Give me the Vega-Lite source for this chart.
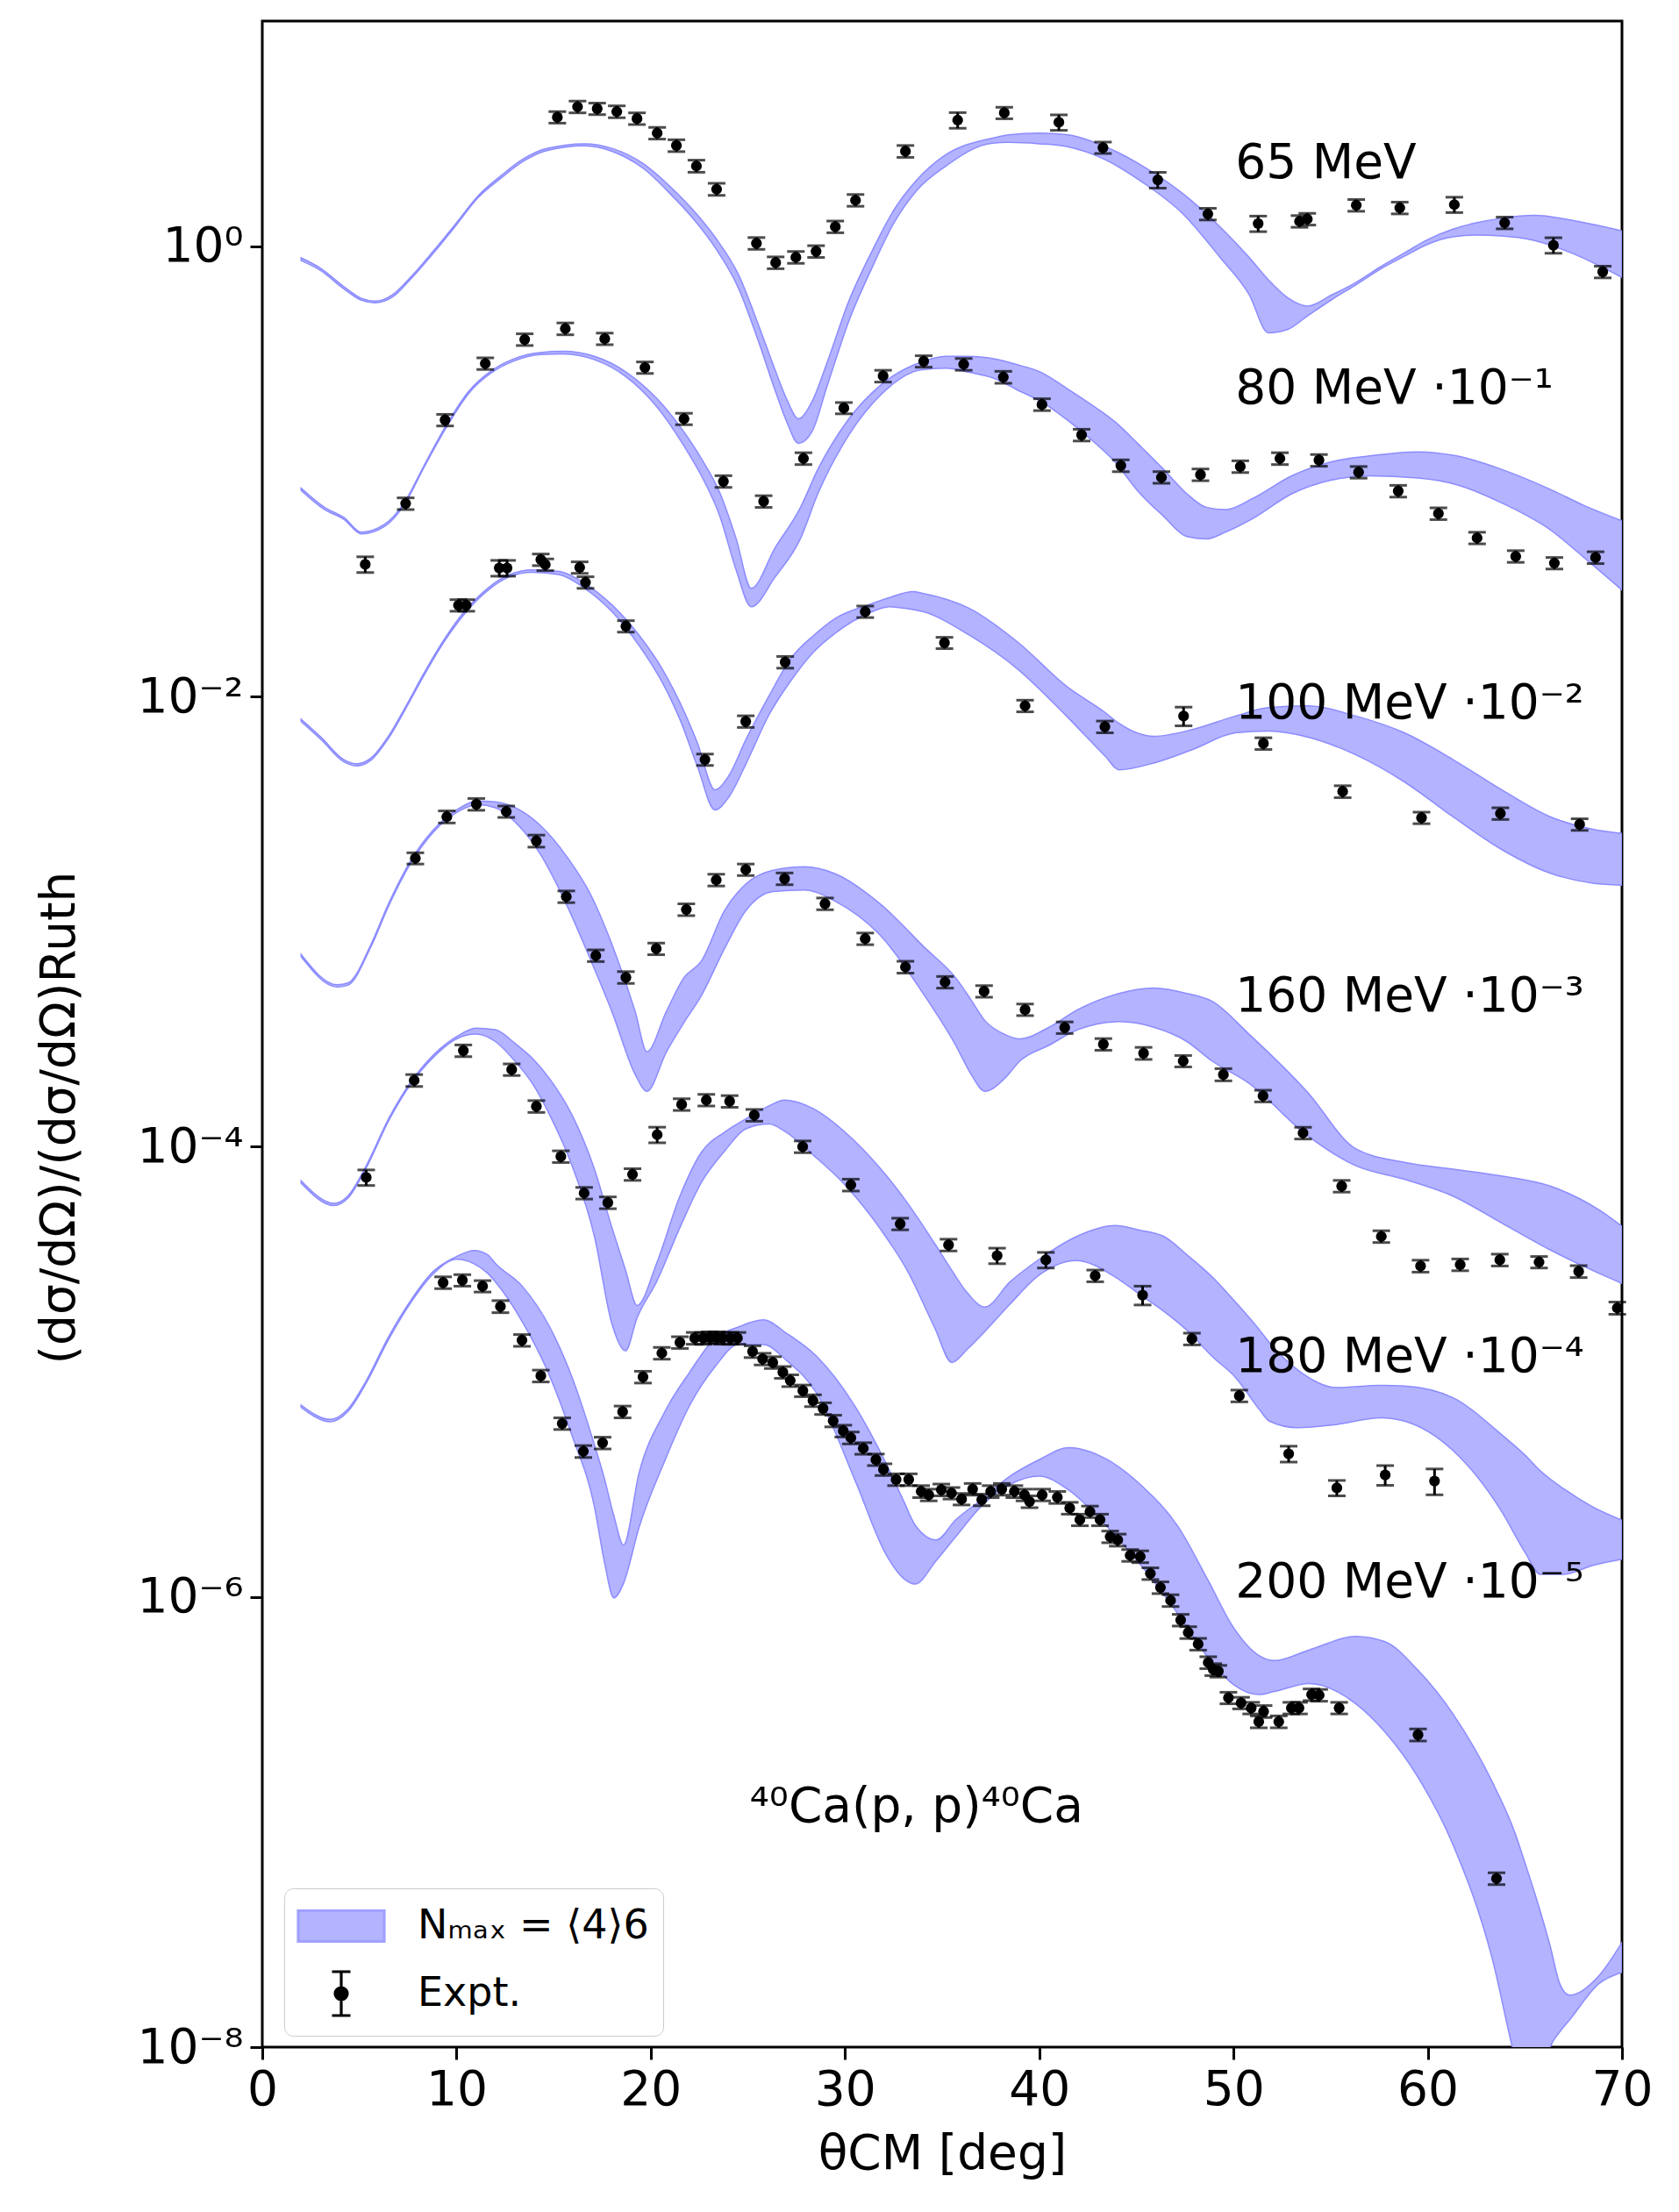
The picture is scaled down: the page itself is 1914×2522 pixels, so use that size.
{
  "$schema": "https://vega.github.io/schema/vega-lite/v6.json",
  "width": 1550,
  "height": 2310,
  "autosize": {"type": "none"},
  "padding": {"left": 299, "top": 24, "right": 65, "bottom": 188},
  "background": "white",
  "config": {
    "font": "DejaVu Sans",
    "view": {"stroke": "black", "strokeWidth": 3},
    "axis": {
      "domain": false, "grid": false,
      "tickColor": "black", "tickWidth": 3, "tickSize": 14,
      "labelColor": "black", "labelFont": "DejaVu Sans", "labelFontSize": 55,
      "labelFlush": false, "labelOverlap": false, "labelBound": false, "labelPadding": 8,
      "titleColor": "black", "titleFont": "DejaVu Sans", "titleFontSize": 55, "titleFontWeight": "normal"
    }
  },
  "datasets": {
    "bands": [
      {"E":"65","t":2.0,"hi":0.887,"lo":0.863},{"E":"65","t":3.0,"hi":0.798,"lo":0.780},{"E":"65","t":4.2,"hi":0.661,"lo":0.646},
      {"E":"65","t":5.1,"hi":0.586,"lo":0.575},{"E":"65","t":5.8,"hi":0.570,"lo":0.560},{"E":"65","t":6.7,"hi":0.608,"lo":0.594},
      {"E":"65","t":7.6,"hi":0.723,"lo":0.708},{"E":"65","t":8.8,"hi":0.951,"lo":0.929},{"E":"65","t":10.0,"hi":1.27,"lo":1.245},
      {"E":"65","t":11.1,"hi":1.67,"lo":1.64},{"E":"65","t":12.3,"hi":2.06,"lo":2.01},{"E":"65","t":13.4,"hi":2.43,"lo":2.37},
      {"E":"65","t":14.6,"hi":2.71,"lo":2.65},{"E":"65","t":16.6,"hi":2.85,"lo":2.79},{"E":"65","t":18.0,"hi":2.72,"lo":2.64},
      {"E":"65","t":19.6,"hi":2.33,"lo":2.22},{"E":"65","t":21.0,"hi":1.84,"lo":1.71},{"E":"65","t":22.2,"hi":1.44,"lo":1.32},
      {"E":"65","t":23.3,"hi":1.10,"lo":0.989},{"E":"65","t":24.5,"hi":0.752,"lo":0.655},{"E":"65","t":25.6,"hi":0.434,"lo":0.366},
      {"E":"65","t":26.4,"hi":0.282,"lo":0.229},{"E":"65","t":27.0,"hi":0.209,"lo":0.166},{"E":"65","t":27.6,"hi":0.171,"lo":0.133},
      {"E":"65","t":28.3,"hi":0.204,"lo":0.150},{"E":"65","t":29.1,"hi":0.308,"lo":0.242},{"E":"65","t":30.2,"hi":0.571,"lo":0.465},
      {"E":"65","t":31.4,"hi":0.955,"lo":0.805},{"E":"65","t":32.5,"hi":1.44,"lo":1.26},{"E":"65","t":33.7,"hi":1.97,"lo":1.77},
      {"E":"65","t":35.1,"hi":2.52,"lo":2.24},{"E":"65","t":37.6,"hi":3.02,"lo":2.87},{"E":"65","t":38.4,"hi":3.12,"lo":2.89},
      {"E":"65","t":40.0,"hi":3.18,"lo":2.85},{"E":"65","t":41.4,"hi":3.13,"lo":2.77},{"E":"65","t":43.4,"hi":2.77,"lo":2.42},
      {"E":"65","t":45.4,"hi":2.25,"lo":1.90},{"E":"65","t":47.4,"hi":1.71,"lo":1.39},{"E":"65","t":49.3,"hi":1.22,"lo":0.893},
      {"E":"65","t":50.8,"hi":0.893,"lo":0.611},{"E":"65","t":51.8,"hi":0.708,"lo":0.412},{"E":"65","t":52.8,"hi":0.589,"lo":0.427},
      {"E":"65","t":53.8,"hi":0.542,"lo":0.489},{"E":"65","t":55.1,"hi":0.610,"lo":0.582},{"E":"65","t":56.3,"hi":0.690,"lo":0.673},
      {"E":"65","t":57.6,"hi":0.813,"lo":0.794},{"E":"65","t":58.8,"hi":0.933,"lo":0.902},{"E":"65","t":60.0,"hi":1.07,"lo":1.02},
      {"E":"65","t":61.3,"hi":1.19,"lo":1.10},{"E":"65","t":62.5,"hi":1.27,"lo":1.12},{"E":"65","t":63.8,"hi":1.33,"lo":1.11},
      {"E":"65","t":65.5,"hi":1.37,"lo":1.06},{"E":"65","t":67.5,"hi":1.30,"lo":0.925},{"E":"65","t":70.0,"hi":1.17,"lo":0.726},

      {"E":"80","t":2.0,"hi":0.0841,"lo":0.0822},{"E":"80","t":3.2,"hi":0.0692,"lo":0.0676},{"E":"80","t":4.2,"hi":0.0624,"lo":0.0612},
      {"E":"80","t":5.1,"hi":0.0537,"lo":0.0527},{"E":"80","t":6.3,"hi":0.0582,"lo":0.0569},{"E":"80","t":7.3,"hi":0.0724,"lo":0.0708},
      {"E":"80","t":8.35,"hi":0.107,"lo":0.105},{"E":"80","t":9.5,"hi":0.162,"lo":0.158},{"E":"80","t":10.65,"hi":0.228,"lo":0.223},
      {"E":"80","t":11.8,"hi":0.280,"lo":0.274},{"E":"80","t":12.95,"hi":0.316,"lo":0.309},{"E":"80","t":14.3,"hi":0.337,"lo":0.330},
      {"E":"80","t":15.5,"hi":0.341,"lo":0.332},{"E":"80","t":17.1,"hi":0.324,"lo":0.313},{"E":"80","t":18.7,"hi":0.277,"lo":0.264},
      {"E":"80","t":20.3,"hi":0.211,"lo":0.194},{"E":"80","t":21.7,"hi":0.150,"lo":0.130},{"E":"80","t":22.6,"hi":0.114,"lo":0.0957},
      {"E":"80","t":23.55,"hi":0.0805,"lo":0.0634},{"E":"80","t":24.4,"hi":0.0501,"lo":0.0363},{"E":"80","t":25.17,"hi":0.0302,"lo":0.0250},
      {"E":"80","t":26.4,"hi":0.0457,"lo":0.0339},{"E":"80","t":27.7,"hi":0.0689,"lo":0.0501},{"E":"80","t":28.6,"hi":0.102,"lo":0.0794},
      {"E":"80","t":30.2,"hi":0.171,"lo":0.145},{"E":"80","t":31.85,"hi":0.242,"lo":0.219},{"E":"80","t":33.9,"hi":0.305,"lo":0.282},
      {"E":"80","t":35.2,"hi":0.324,"lo":0.287},{"E":"80","t":36.4,"hi":0.324,"lo":0.275},{"E":"80","t":37.65,"hi":0.316,"lo":0.259},
      {"E":"80","t":38.9,"hi":0.297,"lo":0.229},{"E":"80","t":40.1,"hi":0.275,"lo":0.204},{"E":"80","t":41.4,"hi":0.234,"lo":0.170},
      {"E":"80","t":42.6,"hi":0.200,"lo":0.140},{"E":"80","t":43.9,"hi":0.166,"lo":0.110},{"E":"80","t":45.1,"hi":0.132,"lo":0.0813},
      {"E":"80","t":46.4,"hi":0.102,"lo":0.0631},{"E":"80","t":47.6,"hi":0.0794,"lo":0.0513},{"E":"80","t":48.6,"hi":0.0692,"lo":0.0501},
      {"E":"80","t":49.6,"hi":0.0676,"lo":0.0537},{"E":"80","t":51.0,"hi":0.0759,"lo":0.0617},{"E":"80","t":53.0,"hi":0.0955,"lo":0.0794},
      {"E":"80","t":55.0,"hi":0.110,"lo":0.0912},{"E":"80","t":57.0,"hi":0.117,"lo":0.0955},{"E":"80","t":59.5,"hi":0.122,"lo":0.0933},
      {"E":"80","t":61.5,"hi":0.117,"lo":0.0871},{"E":"80","t":63.8,"hi":0.102,"lo":0.0724},{"E":"80","t":66.3,"hi":0.0832,"lo":0.0550},
      {"E":"80","t":68.0,"hi":0.0708,"lo":0.0417},{"E":"80","t":70.0,"hi":0.0603,"lo":0.0297},

      {"E":"100","t":2.0,"hi":7.91e-3,"lo":7.73e-3},{"E":"100","t":3.05,"hi":6.55e-3,"lo":6.40e-3},{"E":"100","t":4.2,"hi":5.24e-3,"lo":5.12e-3},
      {"E":"100","t":4.9,"hi":5.02e-3,"lo":4.91e-3},{"E":"100","t":5.6,"hi":5.33e-3,"lo":5.21e-3},{"E":"100","t":6.5,"hi":6.67e-3,"lo":6.52e-3},
      {"E":"100","t":7.4,"hi":9.08e-3,"lo":8.87e-3},{"E":"100","t":8.35,"hi":0.0128,"lo":0.0125},{"E":"100","t":9.27,"hi":0.0174,"lo":0.0170},
      {"E":"100","t":10.4,"hi":0.0238,"lo":0.0232},{"E":"100","t":11.6,"hi":0.0302,"lo":0.0295},{"E":"100","t":12.7,"hi":0.0347,"lo":0.0339},
      {"E":"100","t":13.9,"hi":0.0365,"lo":0.0356},{"E":"100","t":15.3,"hi":0.0359,"lo":0.0347},{"E":"100","t":16.6,"hi":0.0318,"lo":0.0302},
      {"E":"100","t":18.0,"hi":0.0255,"lo":0.0238},{"E":"100","t":19.4,"hi":0.0187,"lo":0.0168},{"E":"100","t":20.6,"hi":0.0132,"lo":0.0115},
      {"E":"100","t":21.5,"hi":9.40e-3,"lo":7.91e-3},{"E":"100","t":22.4,"hi":6.22e-3,"lo":4.89e-3},{"E":"100","t":23.3,"hi":3.85e-3,"lo":3.13e-3},
      {"E":"100","t":24.0,"hi":4.42e-3,"lo":3.55e-3},{"E":"100","t":24.9,"hi":6.44e-3,"lo":5.01e-3},{"E":"100","t":26.1,"hi":0.0101,"lo":8.32e-3},
      {"E":"100","t":27.2,"hi":0.0147,"lo":0.0117},{"E":"100","t":28.4,"hi":0.0187,"lo":0.0158},{"E":"100","t":29.5,"hi":0.0222,"lo":0.0191},
      {"E":"100","t":31.2,"hi":0.0255,"lo":0.0234},{"E":"100","t":32.3,"hi":0.0275,"lo":0.0250},{"E":"100","t":33.5,"hi":0.0292,"lo":0.0243},
      {"E":"100","t":34.0,"hi":0.0287,"lo":0.0238},{"E":"100","t":36.4,"hi":0.0246,"lo":0.0187},{"E":"100","t":38.9,"hi":0.0174,"lo":0.0132},
      {"E":"100","t":41.4,"hi":0.0111,"lo":8.18e-3},{"E":"100","t":43.4,"hi":8.47e-3,"lo":5.42e-3},{"E":"100","t":44.1,"hi":7.59e-3,"lo":4.72e-3},
      {"E":"100","t":45.9,"hi":6.65e-3,"lo":5.06e-3},{"E":"100","t":47.9,"hi":7.13e-3,"lo":5.81e-3},{"E":"100","t":50.1,"hi":8.18e-3,"lo":6.89e-3},
      {"E":"100","t":51.8,"hi":8.91e-3,"lo":7.02e-3},{"E":"100","t":53.8,"hi":9.08e-3,"lo":6.61e-3},{"E":"100","t":56.3,"hi":8.18e-3,"lo":5.50e-3},
      {"E":"100","t":58.8,"hi":6.89e-3,"lo":4.17e-3},{"E":"100","t":61.3,"hi":5.24e-3,"lo":2.92e-3},{"E":"100","t":63.8,"hi":3.85e-3,"lo":2.09e-3},
      {"E":"100","t":66.3,"hi":2.92e-3,"lo":1.64e-3},{"E":"100","t":68.5,"hi":2.57e-3,"lo":1.48e-3},{"E":"100","t":70.0,"hi":2.46e-3,"lo":1.45e-3},

      {"E":"160","t":2.0,"hi":7.14e-4,"lo":6.98e-4},{"E":"160","t":3.85,"hi":5.24e-4,"lo":5.12e-4},{"E":"160","t":4.4,"hi":5.33e-4,"lo":5.21e-4},
      {"E":"160","t":5.6,"hi":7.93e-4,"lo":7.74e-4},{"E":"160","t":6.5,"hi":1.20e-3,"lo":1.17e-3},{"E":"160","t":7.65,"hi":1.87e-3,"lo":1.82e-3},
      {"E":"160","t":8.8,"hi":2.55e-3,"lo":2.49e-3},{"E":"160","t":10.0,"hi":3.13e-3,"lo":3.05e-3},{"E":"160","t":11.1,"hi":3.43e-3,"lo":3.30e-3},
      {"E":"160","t":12.0,"hi":3.40e-3,"lo":3.20e-3},{"E":"160","t":13.4,"hi":3.08e-3,"lo":2.55e-3},{"E":"160","t":14.3,"hi":2.68e-3,"lo":2.00e-3},
      {"E":"160","t":15.7,"hi":1.93e-3,"lo":1.17e-3},{"E":"160","t":16.9,"hi":1.32e-3,"lo":6.76e-4},{"E":"160","t":18.0,"hi":7.93e-4,"lo":3.98e-4},
      {"E":"160","t":19.2,"hi":3.98e-4,"lo":2.09e-4},{"E":"160","t":19.8,"hi":2.64e-4,"lo":1.76e-4},{"E":"160","t":20.8,"hi":3.98e-4,"lo":2.63e-4},
      {"E":"160","t":21.7,"hi":5.62e-4,"lo":3.55e-4},{"E":"160","t":22.6,"hi":6.67e-4,"lo":4.68e-4},{"E":"160","t":23.8,"hi":1.12e-3,"lo":7.59e-4},
      {"E":"160","t":24.9,"hi":1.47e-3,"lo":1.12e-3},{"E":"160","t":26.3,"hi":1.69e-3,"lo":1.36e-3},{"E":"160","t":27.9,"hi":1.75e-3,"lo":1.38e-3},
      {"E":"160","t":29.5,"hi":1.63e-3,"lo":1.23e-3},{"E":"160","t":31.8,"hi":1.20e-3,"lo":8.71e-4},{"E":"160","t":34.1,"hi":7.66e-4,"lo":4.68e-4},
      {"E":"160","t":35.7,"hi":5.62e-4,"lo":2.82e-4},{"E":"160","t":36.5,"hi":4.47e-4,"lo":2.09e-4},{"E":"160","t":37.2,"hi":3.63e-4,"lo":1.76e-4},
      {"E":"160","t":38.2,"hi":3.16e-4,"lo":2.00e-4},{"E":"160","t":39.0,"hi":3.01e-4,"lo":2.40e-4},{"E":"160","t":40.5,"hi":3.39e-4,"lo":2.82e-4},
      {"E":"160","t":42.0,"hi":4.07e-4,"lo":3.31e-4},{"E":"160","t":44.1,"hi":4.79e-4,"lo":3.59e-4},{"E":"160","t":45.9,"hi":5.06e-4,"lo":3.39e-4},
      {"E":"160","t":47.6,"hi":4.79e-4,"lo":2.93e-4},{"E":"160","t":48.9,"hi":4.42e-4,"lo":2.40e-4},{"E":"160","t":50.8,"hi":3.16e-4,"lo":1.91e-4},
      {"E":"160","t":53.8,"hi":1.75e-4,"lo":1.12e-4},{"E":"160","t":56.3,"hi":9.77e-5,"lo":8.22e-5},{"E":"160","t":58.8,"hi":8.51e-5,"lo":7.16e-5},
      {"E":"160","t":61.3,"hi":7.94e-5,"lo":6.03e-5},{"E":"160","t":63.8,"hi":7.41e-5,"lo":4.58e-5},{"E":"160","t":66.3,"hi":6.68e-5,"lo":3.48e-5},
      {"E":"160","t":68.8,"hi":5.25e-5,"lo":2.74e-5},{"E":"160","t":70.0,"hi":4.43e-5,"lo":2.47e-5},

      {"E":"180","t":2.0,"hi":7.05e-5,"lo":6.89e-5},{"E":"180","t":3.7,"hi":5.60e-5,"lo":5.47e-5},{"E":"180","t":4.4,"hi":6.03e-5,"lo":5.89e-5},
      {"E":"180","t":5.35,"hi":8.22e-5,"lo":8.04e-5},{"E":"180","t":6.5,"hi":1.33e-4,"lo":1.30e-4},{"E":"180","t":7.65,"hi":1.94e-4,"lo":1.90e-4},
      {"E":"180","t":8.8,"hi":2.55e-4,"lo":2.49e-4},{"E":"180","t":10.0,"hi":3.08e-4,"lo":3.01e-4},{"E":"180","t":11.0,"hi":3.36e-4,"lo":3.16e-4},
      {"E":"180","t":12.0,"hi":3.31e-4,"lo":2.93e-4},{"E":"180","t":13.0,"hi":2.88e-4,"lo":2.40e-4},{"E":"180","t":13.9,"hi":2.47e-4,"lo":1.91e-4},
      {"E":"180","t":14.8,"hi":2.00e-4,"lo":1.38e-4},{"E":"180","t":15.95,"hi":1.38e-4,"lo":8.22e-5},{"E":"180","t":17.1,"hi":7.94e-5,"lo":3.99e-5},
      {"E":"180","t":18.0,"hi":4.37e-5,"lo":1.63e-5},{"E":"180","t":18.7,"hi":2.83e-5,"lo":1.24e-5},{"E":"180","t":19.3,"hi":1.97e-5,"lo":1.74e-5},
      {"E":"180","t":20.3,"hi":3.03e-5,"lo":2.51e-5},{"E":"180","t":21.5,"hi":6.03e-5,"lo":4.37e-5},{"E":"180","t":22.6,"hi":9.42e-5,"lo":6.92e-5},
      {"E":"180","t":23.8,"hi":1.16e-4,"lo":9.55e-5},{"E":"180","t":24.9,"hi":1.33e-4,"lo":1.20e-4},{"E":"180","t":26.1,"hi":1.52e-4,"lo":1.26e-4},
      {"E":"180","t":26.9,"hi":1.61e-4,"lo":1.17e-4},{"E":"180","t":28.4,"hi":1.47e-4,"lo":9.12e-5},{"E":"180","t":30.0,"hi":1.16e-4,"lo":6.76e-5},
      {"E":"180","t":31.85,"hi":7.94e-5,"lo":4.27e-5},{"E":"180","t":33.2,"hi":5.64e-5,"lo":2.82e-5},{"E":"180","t":34.6,"hi":3.73e-5,"lo":1.58e-5},
      {"E":"180","t":35.5,"hi":2.82e-5,"lo":1.10e-5},{"E":"180","t":36.3,"hi":2.24e-5,"lo":1.26e-5},{"E":"180","t":37.2,"hi":1.94e-5,"lo":1.51e-5},
      {"E":"180","t":38.5,"hi":2.51e-5,"lo":2.00e-5},{"E":"180","t":40.0,"hi":3.16e-5,"lo":2.69e-5},{"E":"180","t":41.9,"hi":3.98e-5,"lo":3.12e-5},
      {"E":"180","t":43.9,"hi":4.46e-5,"lo":2.64e-5},{"E":"180","t":45.1,"hi":4.27e-5,"lo":2.23e-5},{"E":"180","t":46.4,"hi":4.00e-5,"lo":1.86e-5},
      {"E":"180","t":47.6,"hi":3.31e-5,"lo":1.53e-5},{"E":"180","t":48.9,"hi":2.64e-5,"lo":1.17e-5},{"E":"180","t":50.1,"hi":2.04e-5,"lo":9.44e-6},
      {"E":"180","t":51.35,"hi":1.53e-5,"lo":6.76e-6},{"E":"180","t":51.84,"hi":1.35e-5,"lo":6.04e-6},{"E":"180","t":53.3,"hi":1.02e-5,"lo":5.64e-6},
      {"E":"180","t":55.3,"hi":8.51e-6,"lo":5.83e-6},{"E":"180","t":57.6,"hi":8.71e-6,"lo":6.25e-6},{"E":"180","t":58.8,"hi":8.65e-6,"lo":6.04e-6},
      {"E":"180","t":61.3,"hi":7.67e-6,"lo":4.47e-6},{"E":"180","t":63.8,"hi":5.26e-6,"lo":2.40e-6},{"E":"180","t":65.0,"hi":4.27e-6,"lo":1.58e-6},
      {"E":"180","t":65.8,"hi":3.63e-6,"lo":1.26e-6},{"E":"180","t":67.0,"hi":3.02e-6,"lo":1.26e-6},{"E":"180","t":68.5,"hi":2.51e-6,"lo":1.38e-6},
      {"E":"180","t":70.0,"hi":2.19e-6,"lo":1.47e-6},

      {"E":"200","t":2.0,"hi":7.11e-6,"lo":6.95e-6},{"E":"200","t":3.5,"hi":6.14e-6,"lo":6.00e-6},{"E":"200","t":4.4,"hi":6.81e-6,"lo":6.65e-6},
      {"E":"200","t":5.35,"hi":9.12e-6,"lo":8.91e-6},{"E":"200","t":6.5,"hi":1.43e-5,"lo":1.39e-5},{"E":"200","t":7.65,"hi":2.08e-5,"lo":2.03e-5},
      {"E":"200","t":8.8,"hi":2.79e-5,"lo":2.72e-5},{"E":"200","t":10.0,"hi":3.25e-5,"lo":3.16e-5},{"E":"200","t":10.9,"hi":3.46e-5,"lo":3.02e-5},
      {"E":"200","t":11.6,"hi":3.31e-5,"lo":2.74e-5},{"E":"200","t":12.0,"hi":3.03e-5,"lo":2.51e-5},{"E":"200","t":13.4,"hi":2.39e-5,"lo":1.66e-5},
      {"E":"200","t":14.8,"hi":1.58e-5,"lo":9.55e-6},{"E":"200","t":15.95,"hi":9.44e-6,"lo":5.19e-6},{"E":"200","t":17.1,"hi":4.74e-6,"lo":2.51e-6},
      {"E":"200","t":17.6,"hi":3.39e-6,"lo":1.45e-6},{"E":"200","t":18.1,"hi":2.29e-6,"lo":9.89e-7},{"E":"200","t":18.6,"hi":1.70e-6,"lo":1.15e-6},
      {"E":"200","t":19.4,"hi":3.56e-6,"lo":2.04e-6},{"E":"200","t":20.7,"hi":6.59e-6,"lo":3.98e-6},{"E":"200","t":22.0,"hi":9.95e-6,"lo":7.08e-6},
      {"E":"200","t":23.3,"hi":1.41e-5,"lo":1.05e-5},{"E":"200","t":24.5,"hi":1.58e-5,"lo":1.32e-5},{"E":"200","t":25.8,"hi":1.70e-5,"lo":1.32e-5},
      {"E":"200","t":27.0,"hi":1.48e-5,"lo":1.12e-5},{"E":"200","t":28.5,"hi":1.18e-5,"lo":8.13e-6},{"E":"200","t":30.5,"hi":7.06e-6,"lo":3.32e-6},
      {"E":"200","t":32.1,"hi":3.94e-6,"lo":1.55e-6},{"E":"200","t":33.0,"hi":2.69e-6,"lo":1.21e-6},{"E":"200","t":33.6,"hi":2.09e-6,"lo":1.14e-6},
      {"E":"200","t":34.7,"hi":1.79e-6,"lo":1.45e-6},{"E":"200","t":35.7,"hi":2.20e-6,"lo":1.85e-6},{"E":"200","t":37.0,"hi":2.69e-6,"lo":2.52e-6},
      {"E":"200","t":38.5,"hi":3.44e-6,"lo":3.16e-6},{"E":"200","t":40.0,"hi":4.07e-6,"lo":3.44e-6},{"E":"200","t":41.5,"hi":4.60e-6,"lo":2.99e-6},
      {"E":"200","t":43.5,"hi":4.07e-6,"lo":2.05e-6},{"E":"200","t":45.3,"hi":3.10e-6,"lo":1.36e-6},{"E":"200","t":47.15,"hi":2.05e-6,"lo":8.39e-7},
      {"E":"200","t":48.7,"hi":1.18e-6,"lo":5.37e-7},{"E":"200","t":50.0,"hi":7.31e-7,"lo":4.08e-7},{"E":"200","t":51.3,"hi":5.50e-7,"lo":3.68e-7},
      {"E":"200","t":52.1,"hi":5.21e-7,"lo":3.80e-7},{"E":"200","t":53.9,"hi":5.81e-7,"lo":4.12e-7},{"E":"200","t":56.3,"hi":6.67e-7,"lo":3.35e-7},
      {"E":"200","t":57.8,"hi":6.32e-7,"lo":2.51e-7},{"E":"200","t":59.5,"hi":4.72e-7,"lo":1.58e-7},{"E":"200","t":61.3,"hi":3.02e-7,"lo":7.93e-8},
      {"E":"200","t":63.3,"hi":1.52e-7,"lo":2.51e-8},{"E":"200","t":64.5,"hi":8.91e-8,"lo":8.91e-9},{"E":"200","t":65.0,"hi":6.61e-8,"lo":6.31e-9},
      {"E":"200","t":65.7,"hi":4.27e-8,"lo":6.31e-9},{"E":"200","t":66.3,"hi":2.82e-8,"lo":1.00e-8},{"E":"200","t":66.8,"hi":1.91e-8,"lo":1.17e-8},
      {"E":"200","t":67.3,"hi":1.70e-8,"lo":1.32e-8},{"E":"200","t":68.8,"hi":2.07e-8,"lo":1.91e-8},{"E":"200","t":70.0,"hi":2.92e-8,"lo":2.15e-8}
    ],
    "expt": [
      {"E":"65","t":15.19,"v":3.74,"e":0.22},{"E":"65","t":16.23,"v":4.16,"e":0.25},{"E":"65","t":17.24,"v":4.08,"e":0.24},
      {"E":"65","t":18.25,"v":3.96,"e":0.24},{"E":"65","t":19.29,"v":3.69,"e":0.22},{"E":"65","t":20.33,"v":3.18,"e":0.19},
      {"E":"65","t":21.32,"v":2.80,"e":0.17},{"E":"65","t":22.35,"v":2.27,"e":0.14},{"E":"65","t":23.39,"v":1.79,"e":0.11},
      {"E":"65","t":25.44,"v":1.03,"e":0.062},{"E":"65","t":26.43,"v":0.845,"e":0.051},{"E":"65","t":27.47,"v":0.893,"e":0.054},
      {"E":"65","t":28.51,"v":0.948,"e":0.057},{"E":"65","t":29.5,"v":1.22,"e":0.073},{"E":"65","t":30.54,"v":1.60,"e":0.096},
      {"E":"65","t":33.11,"v":2.64,"e":0.16},{"E":"65","t":35.8,"v":3.63,"e":0.29},{"E":"65","t":38.2,"v":3.91,"e":0.23},
      {"E":"65","t":41.01,"v":3.55,"e":0.28},{"E":"65","t":43.28,"v":2.74,"e":0.16},{"E":"65","t":46.1,"v":1.97,"e":0.16},
      {"E":"65","t":48.68,"v":1.39,"e":0.083},{"E":"65","t":51.27,"v":1.26,"e":0.10},{"E":"65","t":53.4,"v":1.29,"e":0.077},
      {"E":"65","t":53.8,"v":1.32,"e":0.079},{"E":"65","t":56.32,"v":1.52,"e":0.091},{"E":"65","t":58.56,"v":1.48,"e":0.089},
      {"E":"65","t":61.37,"v":1.53,"e":0.12},{"E":"65","t":63.96,"v":1.27,"e":0.076},{"E":"65","t":66.47,"v":1.01,"e":0.08},
      {"E":"65","t":69.01,"v":0.769,"e":0.046},

      {"E":"80","t":5.3,"v":0.0386,"e":0.0031},{"E":"80","t":7.38,"v":0.0719,"e":0.0043},{"E":"80","t":9.41,"v":0.169,"e":0.010},
      {"E":"80","t":11.48,"v":0.301,"e":0.018},{"E":"80","t":13.51,"v":0.385,"e":0.023},{"E":"80","t":15.6,"v":0.430,"e":0.026},
      {"E":"80","t":17.63,"v":0.388,"e":0.023},{"E":"80","t":19.7,"v":0.289,"e":0.017},{"E":"80","t":21.71,"v":0.171,"e":0.010},
      {"E":"80","t":23.74,"v":0.0902,"e":0.0054},{"E":"80","t":25.81,"v":0.0735,"e":0.0044},{"E":"80","t":27.86,"v":0.114,"e":0.0069},
      {"E":"80","t":29.94,"v":0.191,"e":0.011},{"E":"80","t":31.96,"v":0.265,"e":0.016},{"E":"80","t":34.05,"v":0.308,"e":0.018},
      {"E":"80","t":36.11,"v":0.299,"e":0.018},{"E":"80","t":38.15,"v":0.262,"e":0.016},{"E":"80","t":40.14,"v":0.198,"e":0.012},
      {"E":"80","t":42.18,"v":0.145,"e":0.0087},{"E":"80","t":44.2,"v":0.106,"e":0.0064},{"E":"80","t":46.29,"v":0.0940,"e":0.0056},
      {"E":"80","t":48.3,"v":0.0966,"e":0.0058},{"E":"80","t":50.35,"v":0.105,"e":0.0063},{"E":"80","t":52.39,"v":0.114,"e":0.0069},
      {"E":"80","t":54.4,"v":0.112,"e":0.0067},{"E":"80","t":56.44,"v":0.0991,"e":0.0059},{"E":"80","t":58.48,"v":0.0817,"e":0.0049},
      {"E":"80","t":60.55,"v":0.0649,"e":0.0039},{"E":"80","t":62.54,"v":0.0506,"e":0.0030},{"E":"80","t":64.53,"v":0.0419,"e":0.0025},
      {"E":"80","t":66.52,"v":0.0391,"e":0.0023},{"E":"80","t":68.64,"v":0.0414,"e":0.0025},

      {"E":"100","t":10.1,"v":0.0254,"e":0.0015},{"E":"100","t":10.5,"v":0.0254,"e":0.0015},{"E":"100","t":12.2,"v":0.0372,"e":0.003},
      {"E":"100","t":12.6,"v":0.0372,"e":0.003},{"E":"100","t":14.34,"v":0.0405,"e":0.0024},{"E":"100","t":14.57,"v":0.0385,"e":0.0023},
      {"E":"100","t":16.34,"v":0.0374,"e":0.0022},{"E":"100","t":16.64,"v":0.0321,"e":0.0019},{"E":"100","t":18.72,"v":0.0205,"e":0.0012},
      {"E":"100","t":22.79,"v":0.00524,"e":0.00031},{"E":"100","t":24.89,"v":0.00774,"e":0.00046},{"E":"100","t":26.92,"v":0.0142,"e":0.00085},
      {"E":"100","t":31.04,"v":0.0238,"e":0.0014},{"E":"100","t":35.12,"v":0.0173,"e":0.0010},{"E":"100","t":39.27,"v":0.00908,"e":0.00054},
      {"E":"100","t":43.38,"v":0.00733,"e":0.00044},{"E":"100","t":47.43,"v":0.00818,"e":0.00078},{"E":"100","t":51.54,"v":0.00618,"e":0.00037},
      {"E":"100","t":55.62,"v":0.00378,"e":0.00023},{"E":"100","t":59.68,"v":0.00289,"e":0.00017},{"E":"100","t":63.74,"v":0.00302,"e":0.00018},
      {"E":"100","t":67.82,"v":0.00270,"e":0.00016},

      {"E":"160","t":7.88,"v":1.91e-3,"e":1.1e-4},{"E":"160","t":9.5,"v":2.92e-3,"e":1.8e-4},{"E":"160","t":11.02,"v":3.32e-3,"e":2.0e-4},
      {"E":"160","t":12.56,"v":3.08e-3,"e":1.8e-4},{"E":"160","t":14.11,"v":2.28e-3,"e":1.4e-4},{"E":"160","t":15.65,"v":1.29e-3,"e":7.7e-5},
      {"E":"160","t":17.17,"v":7.06e-4,"e":4.2e-5},{"E":"160","t":18.72,"v":5.65e-4,"e":3.4e-5},{"E":"160","t":20.28,"v":7.57e-4,"e":4.5e-5},
      {"E":"160","t":21.83,"v":1.13e-3,"e":6.8e-5},{"E":"160","t":23.37,"v":1.53e-3,"e":9.2e-5},{"E":"160","t":24.89,"v":1.70e-3,"e":1.0e-4},
      {"E":"160","t":26.89,"v":1.55e-3,"e":9.3e-5},{"E":"160","t":28.97,"v":1.20e-3,"e":7.2e-5},{"E":"160","t":31.04,"v":8.39e-4,"e":5.0e-5},
      {"E":"160","t":33.11,"v":6.28e-4,"e":3.8e-5},{"E":"160","t":35.15,"v":5.38e-4,"e":3.2e-5},{"E":"160","t":37.16,"v":4.90e-4,"e":2.9e-5},
      {"E":"160","t":39.27,"v":4.06e-4,"e":2.4e-5},{"E":"160","t":41.31,"v":3.38e-4,"e":2.0e-5},{"E":"160","t":43.3,"v":2.85e-4,"e":1.7e-5},
      {"E":"160","t":45.37,"v":2.60e-4,"e":1.6e-5},{"E":"160","t":47.41,"v":2.40e-4,"e":1.4e-5},{"E":"160","t":49.48,"v":2.09e-4,"e":1.3e-5},
      {"E":"160","t":51.52,"v":1.68e-4,"e":1.0e-5},{"E":"160","t":53.58,"v":1.15e-4,"e":6.9e-6},{"E":"160","t":55.57,"v":6.68e-5,"e":4.0e-6},
      {"E":"160","t":57.61,"v":3.99e-5,"e":2.4e-6},{"E":"160","t":59.63,"v":2.95e-5,"e":1.8e-6},{"E":"160","t":61.67,"v":2.99e-5,"e":1.8e-6},
      {"E":"160","t":63.71,"v":3.14e-5,"e":1.9e-6},{"E":"160","t":65.73,"v":3.07e-5,"e":1.8e-6},{"E":"160","t":67.77,"v":2.79e-5,"e":1.7e-6},
      {"E":"160","t":69.76,"v":1.92e-5,"e":1.2e-6},

      {"E":"180","t":5.35,"v":7.30e-5,"e":5.8e-6},{"E":"180","t":7.82,"v":1.97e-4,"e":1.2e-5},{"E":"180","t":10.35,"v":2.67e-4,"e":1.6e-5},
      {"E":"180","t":12.84,"v":2.20e-4,"e":1.3e-5},{"E":"180","t":14.11,"v":1.51e-4,"e":9.1e-6},{"E":"180","t":15.37,"v":9.04e-5,"e":5.4e-6},
      {"E":"180","t":16.57,"v":6.22e-5,"e":3.7e-6},{"E":"180","t":17.79,"v":5.64e-5,"e":3.4e-6},{"E":"180","t":19.06,"v":7.53e-5,"e":4.5e-6},
      {"E":"180","t":20.33,"v":1.13e-4,"e":9.0e-6},{"E":"180","t":21.59,"v":1.54e-4,"e":9.2e-6},{"E":"180","t":22.86,"v":1.61e-4,"e":9.6e-6},
      {"E":"180","t":24.06,"v":1.59e-4,"e":9.5e-6},{"E":"180","t":25.33,"v":1.38e-4,"e":8.3e-6},{"E":"180","t":27.82,"v":1.00e-4,"e":6.0e-6},
      {"E":"180","t":30.3,"v":6.76e-5,"e":4.1e-6},{"E":"180","t":32.84,"v":4.54e-5,"e":2.7e-6},{"E":"180","t":35.33,"v":3.66e-5,"e":2.2e-6},
      {"E":"180","t":37.83,"v":3.28e-5,"e":2.6e-6},{"E":"180","t":40.34,"v":3.14e-5,"e":2.5e-6},{"E":"180","t":42.88,"v":2.67e-5,"e":1.6e-6},
      {"E":"180","t":45.32,"v":2.19e-5,"e":2.1e-6},{"E":"180","t":47.86,"v":1.40e-5,"e":8.4e-7},{"E":"180","t":50.3,"v":7.82e-6,"e":4.7e-7},
      {"E":"180","t":52.84,"v":4.32e-6,"e":3.5e-7},{"E":"180","t":55.32,"v":3.05e-6,"e":2.4e-7},{"E":"180","t":57.81,"v":3.48e-6,"e":3.5e-7},
      {"E":"180","t":60.35,"v":3.27e-6,"e":4.3e-7},

      {"E":"200","t":9.31,"v":2.49e-5,"e":1.5e-6},{"E":"200","t":10.3,"v":2.55e-5,"e":1.5e-6},{"E":"200","t":11.34,"v":2.40e-5,"e":1.4e-6},
      {"E":"200","t":12.26,"v":1.95e-5,"e":1.2e-6},{"E":"200","t":13.37,"v":1.38e-5,"e":8.3e-7},{"E":"200","t":14.34,"v":9.59e-6,"e":5.8e-7},
      {"E":"200","t":15.44,"v":5.89e-6,"e":3.5e-7},{"E":"200","t":16.53,"v":4.43e-6,"e":2.7e-7},{"E":"200","t":17.52,"v":4.83e-6,"e":2.9e-7},
      {"E":"200","t":18.55,"v":6.64e-6,"e":4.0e-7},{"E":"200","t":19.6,"v":9.48e-6,"e":5.7e-7},{"E":"200","t":20.57,"v":1.21e-5,"e":7.3e-7},
      {"E":"200","t":21.5,"v":1.35e-5,"e":8.1e-7},{"E":"200","t":22.26,"v":1.41e-5,"e":8.5e-7},{"E":"200","t":22.7,"v":1.41e-5,"e":8.5e-7},
      {"E":"200","t":23.04,"v":1.42e-5,"e":8.5e-7},{"E":"200","t":23.4,"v":1.42e-5,"e":8.5e-7},{"E":"200","t":23.68,"v":1.41e-5,"e":8.5e-7},
      {"E":"200","t":24.1,"v":1.41e-5,"e":8.5e-7},{"E":"200","t":24.46,"v":1.41e-5,"e":8.5e-7},{"E":"200","t":25.24,"v":1.23e-5,"e":7.4e-7},
      {"E":"200","t":25.76,"v":1.14e-5,"e":6.8e-7},{"E":"200","t":26.28,"v":1.10e-5,"e":6.6e-7},{"E":"200","t":26.8,"v":9.95e-6,"e":6.0e-7},
      {"E":"200","t":27.18,"v":9.14e-6,"e":5.5e-7},{"E":"200","t":27.83,"v":8.24e-6,"e":4.9e-7},{"E":"200","t":28.35,"v":7.45e-6,"e":4.5e-7},
      {"E":"200","t":28.87,"v":6.87e-6,"e":4.1e-7},{"E":"200","t":29.39,"v":6.05e-6,"e":3.6e-7},{"E":"200","t":29.91,"v":5.46e-6,"e":3.3e-7},
      {"E":"200","t":30.3,"v":5.09e-6,"e":3.1e-7},{"E":"200","t":30.94,"v":4.57e-6,"e":2.7e-7},{"E":"200","t":31.59,"v":4.07e-6,"e":2.4e-7},
      {"E":"200","t":31.98,"v":3.68e-6,"e":2.2e-7},{"E":"200","t":32.63,"v":3.32e-6,"e":2.0e-7},{"E":"200","t":33.28,"v":3.32e-6,"e":2.0e-7},
      {"E":"200","t":33.92,"v":2.94e-6,"e":1.8e-7},{"E":"200","t":34.31,"v":2.84e-6,"e":1.7e-7},{"E":"200","t":34.96,"v":2.99e-6,"e":1.8e-7},
      {"E":"200","t":35.48,"v":2.89e-6,"e":1.7e-7},{"E":"200","t":36.0,"v":2.72e-6,"e":1.6e-7},{"E":"200","t":36.57,"v":3.01e-6,"e":1.8e-7},
      {"E":"200","t":37.04,"v":2.70e-6,"e":1.6e-7},{"E":"200","t":37.5,"v":2.94e-6,"e":1.8e-7},{"E":"200","t":38.07,"v":3.01e-6,"e":1.8e-7},
      {"E":"200","t":38.72,"v":2.94e-6,"e":1.8e-7},{"E":"200","t":39.24,"v":2.84e-6,"e":1.7e-7},{"E":"200","t":39.5,"v":2.65e-6,"e":1.6e-7},
      {"E":"200","t":40.15,"v":2.84e-6,"e":1.7e-7},{"E":"200","t":40.93,"v":2.77e-6,"e":1.7e-7},{"E":"200","t":41.57,"v":2.48e-6,"e":1.5e-7},
      {"E":"200","t":42.09,"v":2.20e-6,"e":1.3e-7},{"E":"200","t":42.61,"v":2.39e-6,"e":1.4e-7},{"E":"200","t":43.13,"v":2.20e-6,"e":1.3e-7},
      {"E":"200","t":43.65,"v":1.85e-6,"e":1.1e-7},{"E":"200","t":44.04,"v":1.79e-6,"e":1.1e-7},{"E":"200","t":44.68,"v":1.53e-6,"e":9.2e-8},
      {"E":"200","t":45.2,"v":1.51e-6,"e":9.1e-8},{"E":"200","t":45.72,"v":1.27e-6,"e":7.6e-8},{"E":"200","t":46.24,"v":1.10e-6,"e":6.6e-8},
      {"E":"200","t":46.76,"v":9.64e-7,"e":5.8e-8},{"E":"200","t":47.28,"v":7.89e-7,"e":4.7e-8},{"E":"200","t":47.67,"v":6.95e-7,"e":4.2e-8},
      {"E":"200","t":48.18,"v":6.17e-7,"e":3.7e-8},{"E":"200","t":48.7,"v":5.11e-7,"e":3.1e-8},{"E":"200","t":48.96,"v":4.76e-7,"e":2.9e-8},
      {"E":"200","t":49.22,"v":4.68e-7,"e":2.8e-8},{"E":"200","t":49.74,"v":3.56e-7,"e":2.1e-8},{"E":"200","t":50.39,"v":3.38e-7,"e":2.0e-8},
      {"E":"200","t":50.91,"v":3.21e-7,"e":1.9e-8},{"E":"200","t":51.3,"v":2.79e-7,"e":1.7e-8},{"E":"200","t":51.55,"v":3.10e-7,"e":1.9e-8},
      {"E":"200","t":52.33,"v":2.79e-7,"e":1.7e-8},{"E":"200","t":52.98,"v":3.21e-7,"e":1.9e-8},{"E":"200","t":53.37,"v":3.21e-7,"e":1.9e-8},
      {"E":"200","t":54.02,"v":3.68e-7,"e":2.2e-8},{"E":"200","t":54.41,"v":3.66e-7,"e":2.2e-8},{"E":"200","t":55.44,"v":3.21e-7,"e":1.9e-8},
      {"E":"200","t":59.5,"v":2.44e-7,"e":1.5e-8},{"E":"200","t":63.54,"v":5.61e-8,"e":3.4e-9}
    ],
    "notes": [
      {"t":50.1,"v":2,"label":"65 MeV"},
      {"t":50.1,"v":0.2,"label":"80 MeV ·10⁻¹"},
      {"t":50.1,"v":0.008,"label":"100 MeV ·10⁻²"},
      {"t":50.1,"v":0.0004,"label":"160 MeV ·10⁻³"},
      {"t":50.1,"v":1e-5,"label":"180 MeV ·10⁻⁴"},
      {"t":50.1,"v":1e-6,"label":"200 MeV ·10⁻⁵"},
      {"t":25.1,"v":1e-7,"label":"⁴⁰Ca(p, p)⁴⁰Ca"}
    ]
  },
  "encoding": {
    "x": {
      "field": "t", "type": "quantitative",
      "scale": {"domain": [0, 70], "nice": false, "zero": false},
      "axis": {"values": [0, 10, 20, 30, 40, 50, 60, 70], "title": "θCM [deg]", "titleY": 121, "titleBaseline": "middle"}
    }
  },
  "layer": [
    {
      "data": {"name": "bands"},
      "mark": {"type": "area", "interpolate": "monotone", "fill": "#b3b3ff", "stroke": "#8c8cff", "strokeWidth": 1.5, "clip": true},
      "encoding": {
        "y": {
          "field": "hi", "type": "quantitative",
          "title": "(dσ/dΩ)/(dσ/dΩ)Ruth",
          "scale": {"type": "log", "domain": [1e-8, 10], "nice": false},
          "axis": {
            "values": [1e-8, 1e-6, 1e-4, 0.01, 1],
            "labelExpr": "['10⁻⁸','','10⁻⁶','','10⁻⁴','','10⁻²','','10⁰'][round(log(datum.value)/LN10)+8]",
            "titleX": -232, "titleY": 1250, "titleBaseline": "middle"
          }
        },
        "y2": {"field": "lo"},
        "detail": {"field": "E"}
      }
    },
    {
      "data": {"name": "expt"},
      "mark": {"type": "errorbar", "color": "black", "thickness": 3, "ticks": {"size": 20, "thickness": 3, "color": "black"}},
      "encoding": {
        "y": {"field": "v", "type": "quantitative", "title": "(dσ/dΩ)/(dσ/dΩ)Ruth"},
        "yError": {"field": "e"}
      }
    },
    {
      "data": {"name": "expt"},
      "mark": {"type": "circle", "size": 150, "color": "black", "opacity": 1},
      "encoding": {
        "y": {"field": "v", "type": "quantitative", "title": "(dσ/dΩ)/(dσ/dΩ)Ruth"}
      }
    },
    {
      "data": {"name": "notes"},
      "mark": {"type": "text", "align": "left", "baseline": "alphabetic", "font": "DejaVu Sans", "fontSize": 55, "color": "black"},
      "encoding": {
        "y": {"field": "v", "type": "quantitative", "title": "(dσ/dΩ)/(dσ/dΩ)Ruth"},
        "text": {"field": "label"}
      }
    },
    {
      "data": {"name": "notes"},
      "mark": {"type": "point", "filled": true, "opacity": 0},
      "encoding": {
        "y": {"field": "v", "type": "quantitative", "title": "(dσ/dΩ)/(dσ/dΩ)Ruth"},
        "shape": {
          "datum": "Expt.", "type": "nominal",
          "scale": {"domain": ["Nₘₐₓ = ⟨4⟩6", "Expt."], "range": ["M-1.96,-0.7L1.96,-0.7L1.96,0.7L-1.96,0.7Z", "M0,-1L0,1M-0.42,-1L0.42,-1M-0.42,1L0.42,1M0.28,0A0.28,0.28,0,1,1,-0.28,0A0.28,0.28,0,1,1,0.28,0Z"]},
          "legend": {
            "title": null, "orient": "none", "legendX": 25, "legendY": 2129,
            "labelFont": "DejaVu Sans", "labelFontSize": 46, "labelColor": "black", "labelLimit": 0,
            "symbolSize": 2500, "symbolOffset": 22, "labelOffset": 60, "rowPadding": 21, "symbolOpacity": 1, "symbolStrokeWidth": 3.2,
            "padding": 16, "strokeColor": "#cccccc", "fillColor": "white", "cornerRadius": 10
          }
        },
        "fill": {
          "datum": "Expt.", "type": "nominal",
          "scale": {"domain": ["Nₘₐₓ = ⟨4⟩6", "Expt."], "range": ["#b3b3ff", "#000000"]},
          "legend": {
            "title": null, "orient": "none", "legendX": 25, "legendY": 2129,
            "labelFont": "DejaVu Sans", "labelFontSize": 46, "labelColor": "black", "labelLimit": 0,
            "symbolSize": 2500, "symbolOffset": 22, "labelOffset": 60, "rowPadding": 21, "symbolOpacity": 1, "symbolStrokeWidth": 3.2,
            "padding": 16, "strokeColor": "#cccccc", "fillColor": "white", "cornerRadius": 10
          }
        },
        "stroke": {
          "datum": "Expt.", "type": "nominal",
          "scale": {"domain": ["Nₘₐₓ = ⟨4⟩6", "Expt."], "range": ["#a0a0ff", "#000000"]},
          "legend": {
            "title": null, "orient": "none", "legendX": 25, "legendY": 2129,
            "labelFont": "DejaVu Sans", "labelFontSize": 46, "labelColor": "black", "labelLimit": 0,
            "symbolSize": 2500, "symbolOffset": 22, "labelOffset": 60, "rowPadding": 21, "symbolOpacity": 1, "symbolStrokeWidth": 3.2,
            "padding": 16, "strokeColor": "#cccccc", "fillColor": "white", "cornerRadius": 10
          }
        }
      }
    }
  ]
}
